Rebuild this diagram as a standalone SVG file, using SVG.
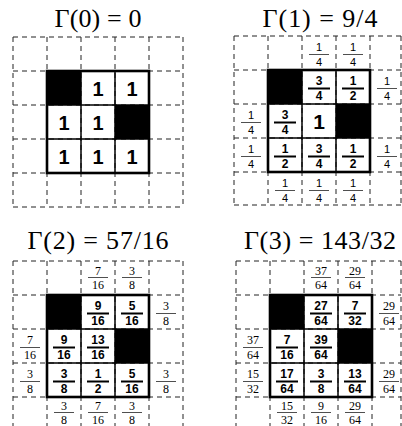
<svg xmlns="http://www.w3.org/2000/svg" width="402" height="426" viewBox="0 0 402 426">
<style>
.bg{fill:#fff}
.dash{fill:none;stroke:#222;stroke-width:1;stroke-dasharray:5 4}
.frame{fill:none;stroke:#000;stroke-width:2.6}
.inner{fill:none;stroke:#000;stroke-width:1.5}
.blk{fill:#000}
.title{font-family:"Liberation Serif","Times New Roman",serif;font-size:26px;text-anchor:middle;fill:#000}
.ib{font-family:"Liberation Sans",Arial,sans-serif;font-weight:bold;font-size:12px;text-anchor:middle;fill:#000}
.big{font-family:"Liberation Sans",Arial,sans-serif;font-weight:bold;font-size:20px;text-anchor:middle;fill:#000}
.os{font-family:"Liberation Sans",Arial,sans-serif;font-size:11px;text-anchor:middle;fill:#000}
.of{font-family:"Liberation Serif","Times New Roman",serif;font-size:12px;text-anchor:middle;fill:#000}
.bar{stroke:#000;stroke-width:2}
.tbar{stroke:#222;stroke-width:0.8}
</style>
<rect class="bg" x="0" y="0" width="402" height="426"/>

<text class="title" x="98" y="27" textLength="87">Γ(0) = 0</text>
<text class="title" x="320" y="27" textLength="115">Γ(1) = 9/4</text>
<text class="title" x="98" y="249" textLength="141">Γ(2) = 57/16</text>
<text class="title" x="320" y="249" textLength="152">Γ(3) = 143/32</text>

<!-- Panel 1 -->
<g id="panel0" transform="translate(13,37)">
<path class="dash" d="M0 0H170M0 34H170M0 68H170M0 102H170M0 136H170M0 170H170M0 0V170M34 0V170M68 0V170M102 0V170M136 0V170M170 0V170"/>
<rect class="blk" x="34" y="34" width="34" height="34"/>
<rect class="blk" x="102" y="68" width="34" height="34"/>
<path class="inner" d="M68 34V136M102 34V136M34 68H136M34 102H136"/>
<rect class="frame" x="34" y="34" width="102" height="102"/>
<text class="big" x="85" y="59">1</text>
<text class="big" x="119" y="59">1</text>
<text class="big" x="51" y="93">1</text>
<text class="big" x="85" y="93">1</text>
<text class="big" x="51" y="127">1</text>
<text class="big" x="85" y="127">1</text>
<text class="big" x="119" y="127">1</text>
</g>

<!-- Panel 2 -->
<g id="panel1" transform="translate(234,36)">
<path class="dash" d="M0 0H167M0 34H167M0 68H167M0 102H167M0 136H167M0 169H167M0 0V169M34 0V169M68 0V169M102 0V169M136 0V169M167 0V169"/>
<rect class="blk" x="34" y="34" width="34" height="34"/>
<rect class="blk" x="102" y="68" width="34" height="34"/>
<path class="inner" d="M68 34V136M102 34V136M34 68H136M34 102H136"/>
<rect class="frame" x="34" y="34" width="102" height="102"/>
<g class="os">
<text x="85" y="14.5">1</text><line class="tbar" x1="75" x2="95" y1="18.5" y2="18.5"/><text x="85" y="29.5">4</text>
<text x="119" y="14.5">1</text><line class="tbar" x1="109" x2="129" y1="18.5" y2="18.5"/><text x="119" y="29.5">4</text>
<text x="153" y="48.5">1</text><line class="tbar" x1="143" x2="163" y1="52.5" y2="52.5"/><text x="153" y="63.5">4</text>
<text x="17" y="82.5">1</text><line class="tbar" x1="7" x2="27" y1="86.5" y2="86.5"/><text x="17" y="97.5">4</text>
<text x="17" y="116.5">1</text><line class="tbar" x1="7" x2="27" y1="120.5" y2="120.5"/><text x="17" y="131.5">4</text>
<text x="153" y="116.5">1</text><line class="tbar" x1="143" x2="163" y1="120.5" y2="120.5"/><text x="153" y="131.5">4</text>
<text x="51" y="150.5">1</text><line class="tbar" x1="41" x2="61" y1="154.5" y2="154.5"/><text x="51" y="165.5">4</text>
<text x="85" y="150.5">1</text><line class="tbar" x1="75" x2="95" y1="154.5" y2="154.5"/><text x="85" y="165.5">4</text>
<text x="119" y="150.5">1</text><line class="tbar" x1="109" x2="129" y1="154.5" y2="154.5"/><text x="119" y="165.5">4</text>
</g>
<g class="ib">
<text x="85" y="48.5">3</text><line class="bar" x1="74" x2="96" y1="52.5" y2="52.5"/><text x="85" y="64">4</text>
<text x="119" y="48.5">1</text><line class="bar" x1="108" x2="130" y1="52.5" y2="52.5"/><text x="119" y="64">2</text>
<text x="51" y="82.5">3</text><line class="bar" x1="40" x2="62" y1="86.5" y2="86.5"/><text x="51" y="98">4</text>
<text x="51" y="116.5">1</text><line class="bar" x1="40" x2="62" y1="120.5" y2="120.5"/><text x="51" y="132">2</text>
<text x="85" y="116.5">3</text><line class="bar" x1="74" x2="96" y1="120.5" y2="120.5"/><text x="85" y="132">4</text>
<text x="119" y="116.5">1</text><line class="bar" x1="108" x2="130" y1="120.5" y2="120.5"/><text x="119" y="132">2</text>
</g>
<text class="big" x="85" y="93" style="font-size:21px">1</text>
</g>

<!-- Panel 3 -->
<g id="panel2" transform="translate(13,261)">
<path class="dash" d="M0 0H170M0 34H170M0 68H170M0 102H170M0 136H170M0 170H170M0 0V170M34 0V170M68 0V170M102 0V170M136 0V170M170 0V170"/>
<rect class="blk" x="34" y="34" width="34" height="34"/>
<rect class="blk" x="102" y="68" width="34" height="34"/>
<path class="inner" d="M68 34V136M102 34V136M34 68H136M34 102H136"/>
<rect class="frame" x="34" y="34" width="102" height="102"/>
<g class="of">
<text x="85" y="13.5">7</text><line class="tbar" x1="75" x2="95" y1="16.5" y2="16.5"/><text x="85" y="27.5">16</text>
<text x="119" y="13.5">3</text><line class="tbar" x1="109" x2="129" y1="16.5" y2="16.5"/><text x="119" y="27.5">8</text>
<text x="153" y="48.5">3</text><line class="tbar" x1="143" x2="163" y1="52.5" y2="52.5"/><text x="153" y="63.5">8</text>
<text x="17" y="82.5">7</text><line class="tbar" x1="7" x2="27" y1="86.5" y2="86.5"/><text x="17" y="97.5">16</text>
<text x="17" y="116.5">3</text><line class="tbar" x1="7" x2="27" y1="120.5" y2="120.5"/><text x="17" y="131.5">8</text>
<text x="153" y="116.5">3</text><line class="tbar" x1="143" x2="163" y1="120.5" y2="120.5"/><text x="153" y="131.5">8</text>
<text x="51" y="148.5">3</text><line class="tbar" x1="41" x2="61" y1="151.5" y2="151.5"/><text x="51" y="163">8</text>
<text x="85" y="148.5">7</text><line class="tbar" x1="75" x2="95" y1="151.5" y2="151.5"/><text x="85" y="163">16</text>
<text x="119" y="148.5">3</text><line class="tbar" x1="109" x2="129" y1="151.5" y2="151.5"/><text x="119" y="163">8</text>
</g>
<g class="ib">
<text x="85" y="48.5">9</text><line class="bar" x1="74" x2="96" y1="52.5" y2="52.5"/><text x="85" y="64">16</text>
<text x="119" y="48.5">5</text><line class="bar" x1="108" x2="130" y1="52.5" y2="52.5"/><text x="119" y="64">16</text>
<text x="51" y="82.5">9</text><line class="bar" x1="40" x2="62" y1="86.5" y2="86.5"/><text x="51" y="98">16</text>
<text x="85" y="82.5">13</text><line class="bar" x1="74" x2="96" y1="86.5" y2="86.5"/><text x="85" y="98">16</text>
<text x="51" y="116.5">3</text><line class="bar" x1="40" x2="62" y1="120.5" y2="120.5"/><text x="51" y="132">8</text>
<text x="85" y="116.5">1</text><line class="bar" x1="74" x2="96" y1="120.5" y2="120.5"/><text x="85" y="132">2</text>
<text x="119" y="116.5">5</text><line class="bar" x1="108" x2="130" y1="120.5" y2="120.5"/><text x="119" y="132">16</text>
</g>
</g>

<!-- Panel 4 -->
<g id="panel3" transform="translate(236,261)">
<path class="dash" d="M0 0H165M0 34H165M0 68H165M0 102H165M0 136H165M0 170H165M0 0V170M34 0V170M68 0V170M102 0V170M136 0V170M165 0V170"/>
<rect class="blk" x="34" y="34" width="34" height="34"/>
<rect class="blk" x="102" y="68" width="34" height="34"/>
<path class="inner" d="M68 34V136M102 34V136M34 68H136M34 102H136"/>
<rect class="frame" x="34" y="34" width="102" height="102"/>
<g class="of">
<text x="85" y="13.5">37</text><line class="tbar" x1="75" x2="95" y1="16.5" y2="16.5"/><text x="85" y="27.5">64</text>
<text x="119" y="13.5">29</text><line class="tbar" x1="109" x2="129" y1="16.5" y2="16.5"/><text x="119" y="27.5">64</text>
<text x="153" y="48.5">29</text><line class="tbar" x1="143" x2="163" y1="52.5" y2="52.5"/><text x="153" y="63.5">64</text>
<text x="17" y="82.5">37</text><line class="tbar" x1="7" x2="27" y1="86.5" y2="86.5"/><text x="17" y="97.5">64</text>
<text x="17" y="116.5">15</text><line class="tbar" x1="7" x2="27" y1="120.5" y2="120.5"/><text x="17" y="131.5">32</text>
<text x="153" y="116.5">29</text><line class="tbar" x1="143" x2="163" y1="120.5" y2="120.5"/><text x="153" y="131.5">64</text>
<text x="51" y="148.5">15</text><line class="tbar" x1="41" x2="61" y1="151.5" y2="151.5"/><text x="51" y="163">32</text>
<text x="85" y="148.5">9</text><line class="tbar" x1="75" x2="95" y1="151.5" y2="151.5"/><text x="85" y="163">16</text>
<text x="119" y="148.5">29</text><line class="tbar" x1="109" x2="129" y1="151.5" y2="151.5"/><text x="119" y="163">64</text>
</g>
<g class="ib">
<text x="85" y="48.5">27</text><line class="bar" x1="74" x2="96" y1="52.5" y2="52.5"/><text x="85" y="64">64</text>
<text x="119" y="48.5">7</text><line class="bar" x1="108" x2="130" y1="52.5" y2="52.5"/><text x="119" y="64">32</text>
<text x="51" y="82.5">7</text><line class="bar" x1="40" x2="62" y1="86.5" y2="86.5"/><text x="51" y="98">16</text>
<text x="85" y="82.5">39</text><line class="bar" x1="74" x2="96" y1="86.5" y2="86.5"/><text x="85" y="98">64</text>
<text x="51" y="116.5">17</text><line class="bar" x1="40" x2="62" y1="120.5" y2="120.5"/><text x="51" y="132">64</text>
<text x="85" y="116.5">3</text><line class="bar" x1="74" x2="96" y1="120.5" y2="120.5"/><text x="85" y="132">8</text>
<text x="119" y="116.5">13</text><line class="bar" x1="108" x2="130" y1="120.5" y2="120.5"/><text x="119" y="132">64</text>
</g>
</g>
</svg>
